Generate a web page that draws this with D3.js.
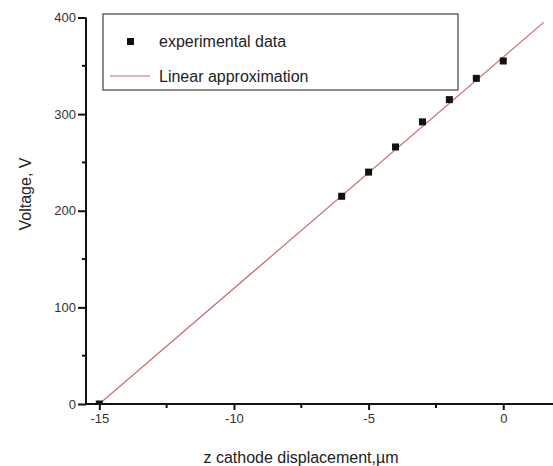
<!DOCTYPE html>
<html>
<head>
<meta charset="utf-8">
<script src="https://cdn.jsdelivr.net/npm/d3@7/dist/d3.min.js"></script>
<style>
  html, body { margin: 0; padding: 0; background: #fff; }
  svg { display: block; font-family: "Liberation Sans", Arial, sans-serif; }
</style>
</head>
<body>
<div id="chart"></div>
<script>
// datos
const zValues = [-15, -6, -5, -4, -3, -2, -1, 0];
const voltValues = [0, 215, 240, 266, 292, 315, 337, 355];

// recta de aproximación (extremos)
const fitX = [-15, 1.5];
const fitY = [0, 395];

const xTicks = [-15, -10, -5, 0];
const xMinor = [-12.5, -7.5, -2.5];
const yTicks = [0, 100, 200, 300, 400];
const yMinor = [50, 150, 250, 350];

const legendLabels = ['experimental data', 'Linear approximation'];

const width = 553, height = 466;
const axisColor = '#111';

const svg = d3.select('#chart').append('svg')
  .attr('width', width)
  .attr('height', height);

// escalas
const x = d3.scaleLinear().domain([-15.494, 1.847]).range([86, 553]);
const y = d3.scaleLinear().domain([0, 400]).range([404, 17.5]);

svg.append('clipPath').attr('id', 'plot-clip')
  .append('rect')
  .attr('x', 86).attr('y', 0)
  .attr('width', width - 86).attr('height', 404);

const plot = svg.append('g').attr('clip-path', 'url(#plot-clip)');

// recta
const line = d3.line().x(d => x(d[0])).y(d => y(d[1]));
plot.append('path')
  .datum(fitX.map((v, i) => [v, fitY[i]]))
  .attr('fill', 'none')
  .attr('stroke', '#c96a6a')
  .attr('stroke-width', 1.2)
  .attr('d', line);

// puntos
plot.selectAll('rect.pt')
  .data(zValues.map((v, i) => [v, voltValues[i]]))
  .enter()
  .append('rect')
  .attr('class', 'pt')
  .attr('x', d => x(d[0]) - 3.5)
  .attr('y', d => y(d[1]) - 3.5)
  .attr('width', 7)
  .attr('height', 7)
  .attr('fill', '#111');

// eje X
const xAxis = svg.append('g')
  .attr('transform', 'translate(0,404)')
  .call(d3.axisBottom(x).tickValues(xTicks).tickSize(6).tickPadding(4).tickFormat(d => d));
xAxis.select('.domain').attr('stroke', axisColor).attr('stroke-width', 2)
  .attr('d', 'M86,0H553');
xAxis.selectAll('.tick line').attr('stroke', axisColor).attr('stroke-width', 2);
xAxis.selectAll('.tick text').attr('font-size', 13).attr('fill', '#333')
  .attr('font-family', '"Liberation Sans", Arial, sans-serif');

svg.append('g').selectAll('line')
  .data(xMinor).enter().append('line')
  .attr('x1', d => x(d)).attr('x2', d => x(d))
  .attr('y1', 404).attr('y2', 408)
  .attr('stroke', axisColor).attr('stroke-width', 2);

// eje Y
const yAxis = svg.append('g')
  .attr('transform', 'translate(86,0)')
  .call(d3.axisLeft(y).tickValues(yTicks).tickSize(8).tickPadding(2).tickFormat(d => d));
yAxis.select('.domain').attr('stroke', axisColor).attr('stroke-width', 2)
  .attr('d', 'M0,' + y(400) + 'V405');
yAxis.selectAll('.tick line').attr('stroke', axisColor).attr('stroke-width', 2);
yAxis.selectAll('.tick text').attr('font-size', 13).attr('fill', '#333')
  .attr('font-family', '"Liberation Sans", Arial, sans-serif');

svg.append('g').selectAll('line')
  .data(yMinor).enter().append('line')
  .attr('x1', 82).attr('x2', 86)
  .attr('y1', d => y(d)).attr('y2', d => y(d))
  .attr('stroke', axisColor).attr('stroke-width', 2);

// títulos de ejes
svg.append('text')
  .attr('x', 301).attr('y', 463)
  .attr('text-anchor', 'middle')
  .attr('font-size', 16).attr('fill', '#222')
  .text('z cathode displacement,\u00b5m');

svg.append('text')
  .attr('transform', 'translate(31,194) rotate(-90)')
  .attr('text-anchor', 'middle')
  .attr('font-size', 16).attr('fill', '#222')
  .text('Voltage, V');

// leyenda
const legend = svg.append('g');
legend.append('rect')
  .attr('x', 103).attr('y', 14)
  .attr('width', 355).attr('height', 76)
  .attr('fill', '#fff')
  .attr('stroke', '#666').attr('stroke-width', 1.5);

legend.append('rect')
  .attr('x', 127).attr('y', 38)
  .attr('width', 7).attr('height', 7)
  .attr('fill', '#111');
legend.append('line')
  .attr('x1', 110).attr('x2', 150)
  .attr('y1', 76).attr('y2', 76)
  .attr('stroke', '#c96a6a').attr('stroke-width', 1.2);

legend.selectAll('text')
  .data(legendLabels).enter().append('text')
  .attr('x', 159)
  .attr('y', (d, i) => 47 + i * 35)
  .attr('font-size', 16).attr('fill', '#222')
  .text(d => d);
</script>
</body>
</html>
